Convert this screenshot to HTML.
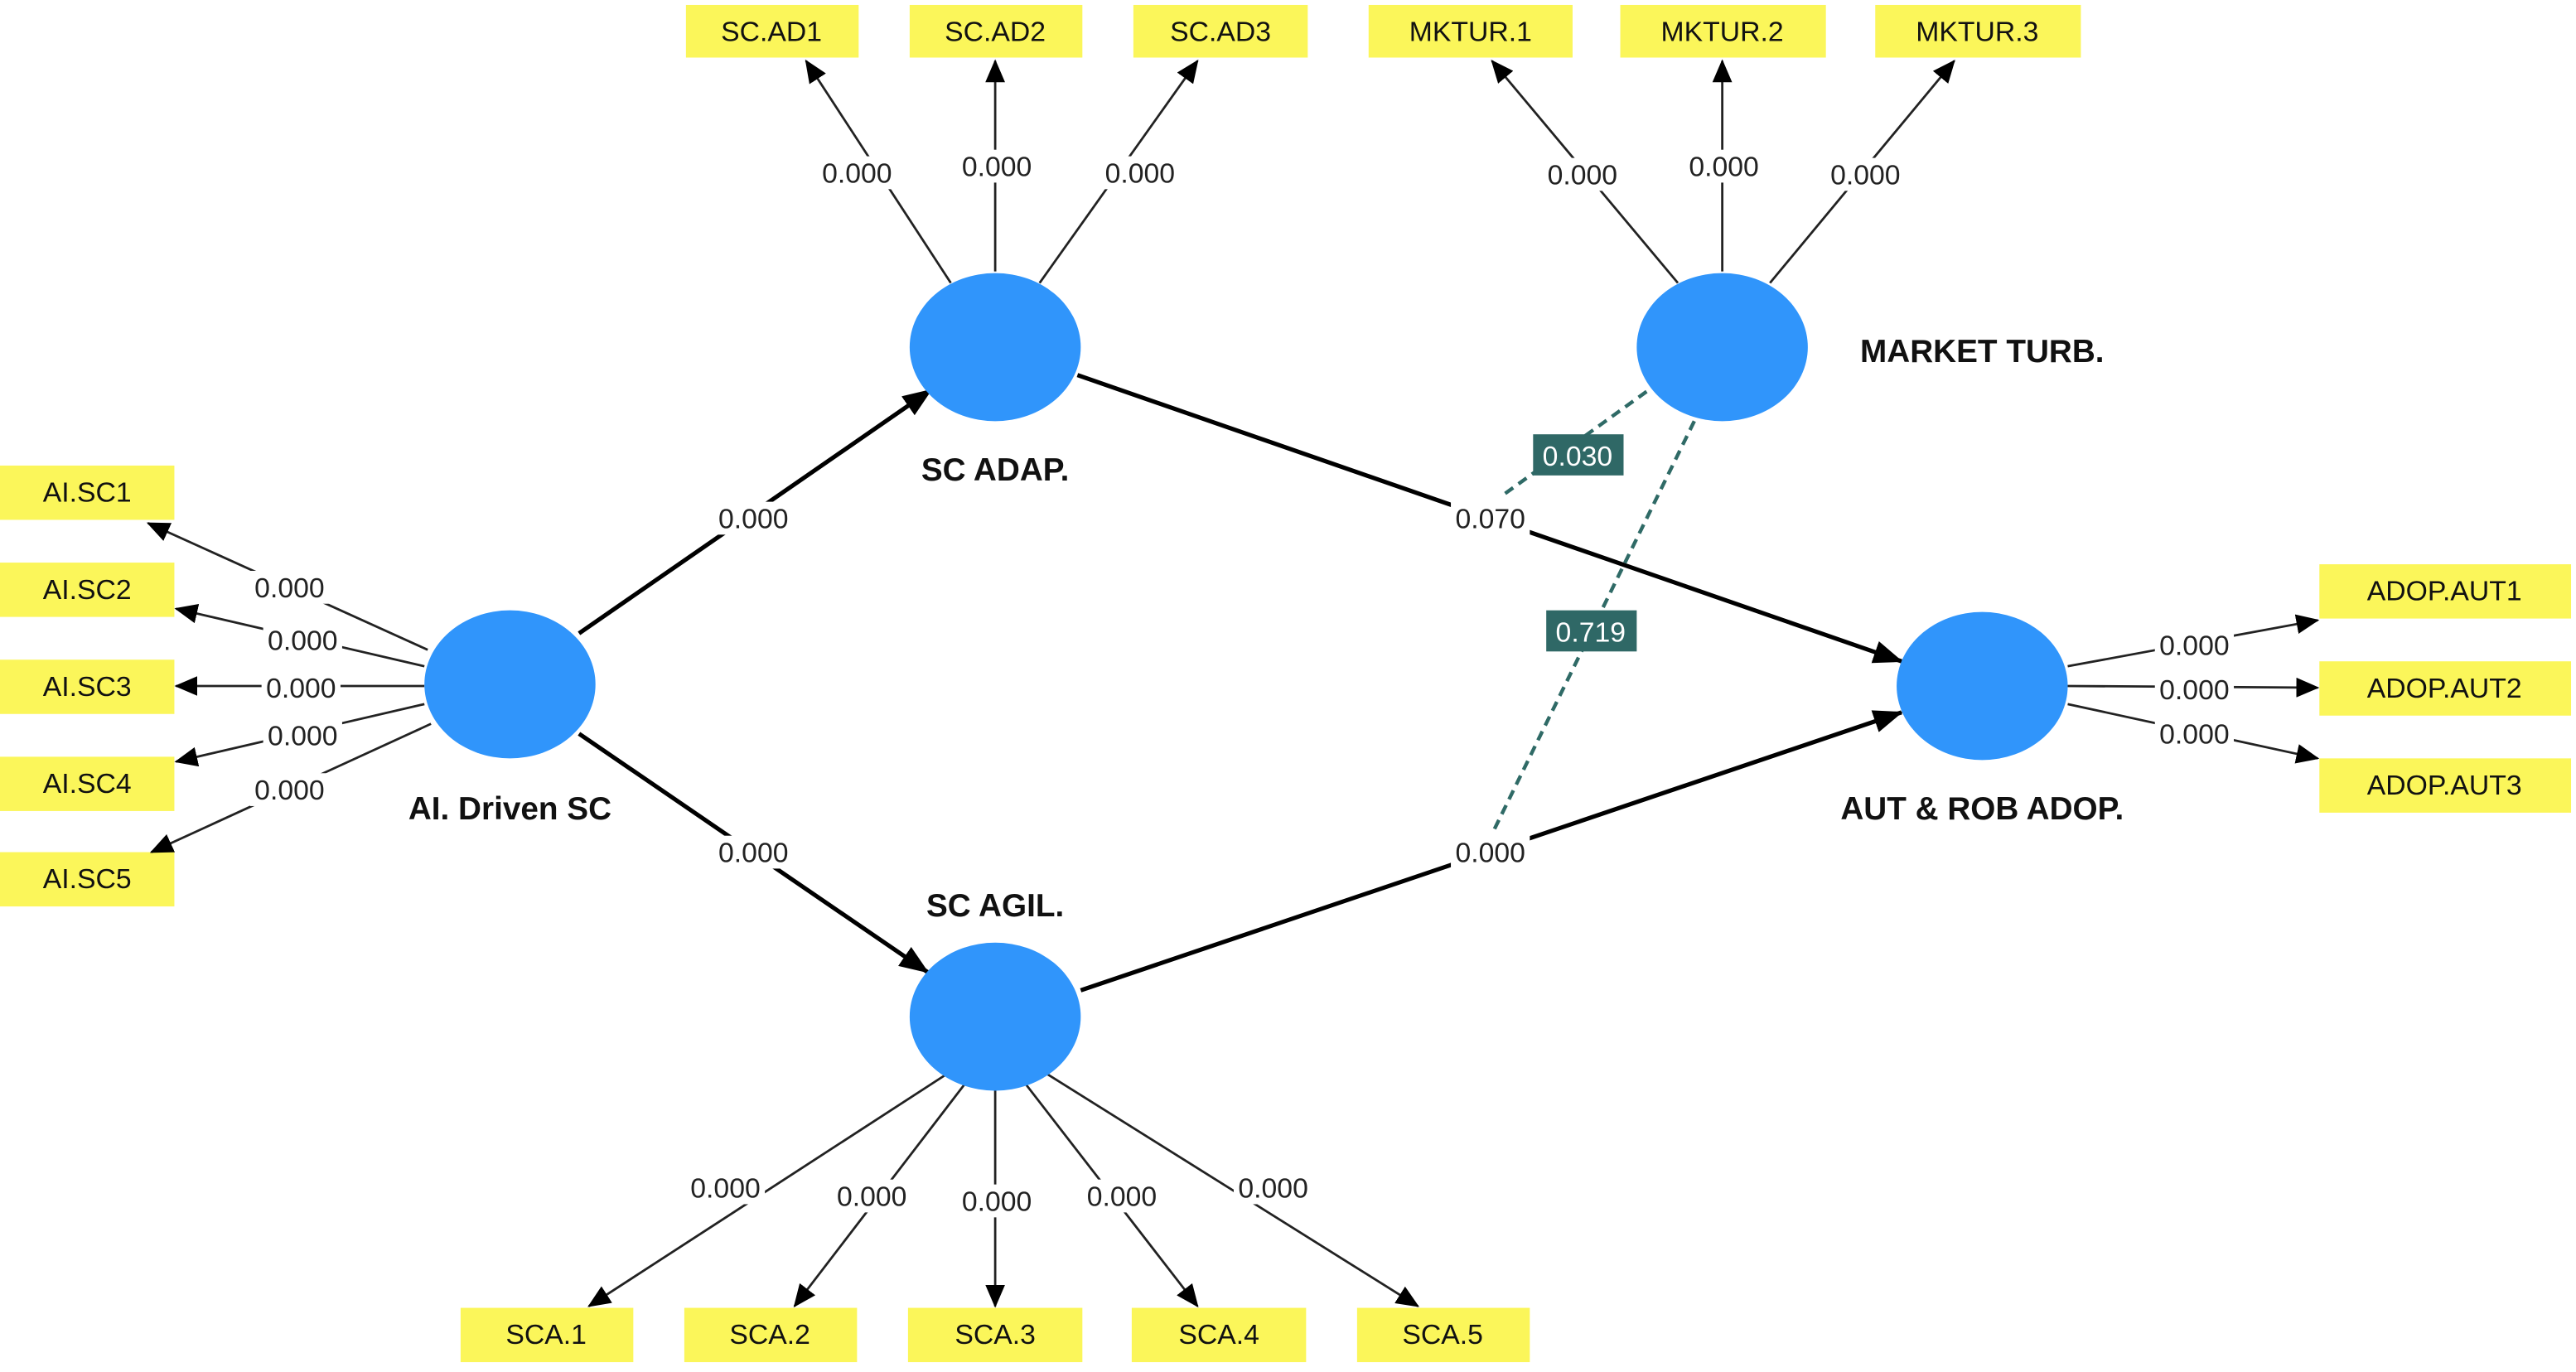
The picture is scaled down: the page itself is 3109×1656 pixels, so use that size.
<!DOCTYPE html>
<html><head><meta charset="utf-8"><style>
html,body{margin:0;padding:0;background:#fff;}
svg{display:block;}
text{font-family:"Liberation Sans",sans-serif;}
.bx{font-size:17px;fill:#111;text-anchor:middle;}
.nd{font-size:19.5px;font-weight:bold;fill:#111;text-anchor:middle;}
.t{stroke:#222;stroke-width:1.4;marker-end:url(#a1);}
.s{stroke:#000;stroke-width:2.6;marker-end:url(#a2);}
</style></head><body>
<svg width="3109" height="1656" viewBox="0 0 1566 834" preserveAspectRatio="none" xmlns="http://www.w3.org/2000/svg">
<defs>
<marker id="a1" markerWidth="14" markerHeight="12" refX="13" refY="6" orient="auto" markerUnits="userSpaceOnUse"><path d="M0,0L14,6L0,12z" fill="#000"/></marker>
<marker id="a2" markerWidth="18" markerHeight="14" refX="17" refY="7" orient="auto" markerUnits="userSpaceOnUse"><path d="M0,0L18,7L0,14z" fill="#000"/></marker>
</defs>
<g fill="#fbf65a">
<rect x="417" y="3" width="105" height="32"/><rect x="553" y="3" width="105" height="32"/><rect x="689" y="3" width="106" height="32"/>
<rect x="832" y="3" width="124" height="32"/><rect x="985" y="3" width="125" height="32"/><rect x="1140" y="3" width="125" height="32"/>
<rect x="0" y="283" width="106" height="33"/><rect x="0" y="342" width="106" height="33"/><rect x="0" y="401" width="106" height="33"/><rect x="0" y="460" width="106" height="33"/><rect x="0" y="518" width="106" height="33"/>
<rect x="1410" y="343" width="153" height="33"/><rect x="1410" y="402" width="153" height="33"/><rect x="1410" y="461" width="153" height="33"/>
<rect x="280" y="795" width="105" height="33"/><rect x="416" y="795" width="105" height="33"/><rect x="552" y="795" width="106" height="33"/><rect x="688" y="795" width="106" height="33"/><rect x="825" y="795" width="105" height="33"/>
</g>
<g class="bx">
<text x="469" y="25">SC.AD1</text><text x="605" y="25">SC.AD2</text><text x="742" y="25">SC.AD3</text>
<text x="894" y="25">MKTUR.1</text><text x="1047" y="25">MKTUR.2</text><text x="1202" y="25">MKTUR.3</text>
<text x="53" y="305">AI.SC1</text><text x="53" y="364">AI.SC2</text><text x="53" y="423">AI.SC3</text><text x="53" y="482">AI.SC4</text><text x="53" y="540">AI.SC5</text>
<text x="1486" y="365">ADOP.AUT1</text><text x="1486" y="424">ADOP.AUT2</text><text x="1486" y="483">ADOP.AUT3</text>
<text x="332" y="817">SCA.1</text><text x="468" y="817">SCA.2</text><text x="605" y="817">SCA.3</text><text x="741" y="817">SCA.4</text><text x="877" y="817">SCA.5</text>
</g>
<g fill="none">
<line class="t" x1="578" y1="172" x2="490" y2="37"/><line class="t" x1="605" y1="165" x2="605" y2="37"/><line class="t" x1="632" y1="172" x2="728" y2="37"/>
<line class="t" x1="1020" y1="172" x2="907" y2="37"/><line class="t" x1="1047" y1="165" x2="1047" y2="37"/><line class="t" x1="1076" y1="172" x2="1188" y2="37"/>
<line class="t" x1="260" y1="395" x2="90" y2="318"/><line class="t" x1="258" y1="405" x2="107" y2="370"/><line class="t" x1="258" y1="417" x2="107" y2="417"/><line class="t" x1="258" y1="428" x2="107" y2="463"/><line class="t" x1="262" y1="440" x2="92" y2="518"/>
<line class="t" x1="1257" y1="405" x2="1409" y2="377"/><line class="t" x1="1257" y1="417" x2="1409" y2="418"/><line class="t" x1="1257" y1="428" x2="1409" y2="461"/>
<line class="t" x1="580" y1="650" x2="358" y2="794"/><line class="t" x1="588" y1="657" x2="483" y2="794"/><line class="t" x1="605" y1="662" x2="605" y2="794"/><line class="t" x1="622" y1="657" x2="728" y2="794"/><line class="t" x1="632" y1="650" x2="862" y2="794"/>
<line class="s" x1="352" y1="385" x2="566" y2="237"/><line class="s" x1="352" y1="446" x2="564" y2="591"/>
<line class="s" x1="655" y1="228" x2="1156" y2="402"/><line class="s" x1="657" y1="602" x2="1156" y2="433"/>
<line x1="1001" y1="238" x2="915" y2="300" stroke="#2f6a66" stroke-width="2.2" stroke-dasharray="6,4"/>
<line x1="1030" y1="256" x2="908" y2="505" stroke="#2f6a66" stroke-width="2.2" stroke-dasharray="6,4"/>
</g>
<g fill="#3095fb">
<ellipse cx="310" cy="416" rx="52" ry="45"/><ellipse cx="605" cy="211" rx="52" ry="45"/><ellipse cx="605" cy="618" rx="52" ry="45"/><ellipse cx="1047" cy="211" rx="52" ry="45"/><ellipse cx="1205" cy="417" rx="52" ry="45"/>
</g>
<rect x="932" y="264" width="55" height="25" fill="#2f6866"/><text x="959" y="283" font-size="17" fill="#fff" text-anchor="middle">0.030</text>
<rect x="940" y="371" width="55" height="25" fill="#2f6866"/><text x="967" y="390" font-size="17" fill="#fff" text-anchor="middle">0.719</text>
<g fill="#fff">
<rect x="497" y="95" width="48" height="20"/><rect x="582" y="91" width="48" height="20"/><rect x="669" y="95" width="48" height="20"/>
<rect x="938" y="96" width="48" height="20"/><rect x="1024" y="91" width="48" height="20"/><rect x="1110" y="96" width="48" height="20"/>
<rect x="152" y="347" width="48" height="20"/><rect x="160" y="379" width="48" height="20"/><rect x="159" y="408" width="48" height="20"/><rect x="160" y="437" width="48" height="20"/><rect x="152" y="470" width="48" height="20"/>
<rect x="1310" y="382" width="48" height="20"/><rect x="1310" y="409" width="48" height="20"/><rect x="1310" y="436" width="48" height="20"/>
<rect x="417" y="712" width="48" height="20"/><rect x="506" y="717" width="48" height="20"/><rect x="582" y="720" width="48" height="20"/><rect x="658" y="717" width="48" height="20"/><rect x="750" y="712" width="48" height="20"/>
<rect x="434" y="305" width="48" height="20"/><rect x="434" y="508" width="48" height="20"/><rect x="882" y="305" width="48" height="20"/><rect x="882" y="508" width="48" height="20"/>
</g>
<g font-size="17" fill="#222" text-anchor="middle">
<text x="521" y="111">0.000</text><text x="606" y="107">0.000</text><text x="693" y="111">0.000</text>
<text x="962" y="112">0.000</text><text x="1048" y="107">0.000</text><text x="1134" y="112">0.000</text>
<text x="176" y="363">0.000</text><text x="184" y="395">0.000</text><text x="183" y="424">0.000</text><text x="184" y="453">0.000</text><text x="176" y="486">0.000</text>
<text x="1334" y="398">0.000</text><text x="1334" y="425">0.000</text><text x="1334" y="452">0.000</text>
<text x="441" y="728">0.000</text><text x="530" y="733">0.000</text><text x="606" y="736">0.000</text><text x="682" y="733">0.000</text><text x="774" y="728">0.000</text>
<text x="458" y="321">0.000</text><text x="458" y="524">0.000</text><text x="906" y="321">0.070</text><text x="906" y="524">0.000</text>
</g>
<g class="nd">
<text x="605" y="292">SC ADAP.</text><text x="310" y="498">AI. Driven SC</text><text x="605" y="557">SC AGIL.</text><text x="1205" y="220">MARKET TURB.</text><text x="1205" y="498">AUT &amp; ROB ADOP.</text>
</g>
</svg>
</body></html>
